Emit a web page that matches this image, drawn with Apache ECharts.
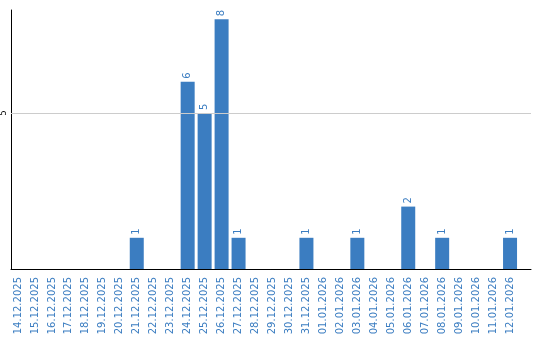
<!DOCTYPE html>
<html>
<head>
<meta charset="utf-8">
<script src="https://cdn.jsdelivr.net/npm/echarts@6/dist/echarts.min.js"></script>
<style>html,body{margin:0;padding:0;background:#fff}#c{width:540px;height:340px}</style>
</head>
<body>
<div id="c"></div>
<script>
var categories = ["14.12.2025","15.12.2025","16.12.2025","17.12.2025","18.12.2025","19.12.2025","20.12.2025","21.12.2025","22.12.2025","23.12.2025","24.12.2025","25.12.2025","26.12.2025","27.12.2025","28.12.2025","29.12.2025","30.12.2025","31.12.2025","01.01.2026","02.01.2026","03.01.2026","04.01.2026","05.01.2026","06.01.2026","07.01.2026","08.01.2026","09.01.2026","10.01.2026","11.01.2026","12.01.2026"];
var values = [0,0,0,0,0,0,0,1,0,0,6,5,8,1,0,0,0,1,0,0,1,0,0,2,0,1,0,0,0,1];
var yTicks = [5];
var gridLineValue = 5;

var blue = '#3b7dc1';
var idx = categories.map(function(_, i){ return i; });
var chart = echarts.init(document.getElementById('c'), null, {renderer: 'canvas'});
chart.setOption({
  animation: false,
  textStyle: {fontFamily: 'DejaVu Sans'},
  grid: {left: 10, right: 9, top: 10, bottom: 71},
  xAxis: {
    type: 'value',
    min: -7/17,
    max: 514/17,
    axisLine: {show: true, onZero: false, lineStyle: {color: '#000', width: 1}},
    axisTick: {show: false},
    splitLine: {show: false},
    axisLabel: {
      customValues: idx,
      rotate: 90,
      margin: 8,
      color: blue,
      fontSize: 10,
      fontFamily: 'DejaVu Sans',
      formatter: function(v){ return categories[Math.round(v)] || ''; }
    }
  },
  yAxis: {
    type: 'value',
    min: 0,
    max: 8.3,
    axisLine: {show: true, onZero: false, lineStyle: {color: '#000', width: 1}},
    axisTick: {show: false},
    splitLine: {show: false},
    axisLabel: {
      customValues: yTicks,
      rotate: 90,
      margin: 3,
      color: '#000',
      fontSize: 8,
      fontFamily: 'DejaVu Sans'
    }
  },
  series: [{
    type: 'bar',
    barWidth: 14,
    data: values.map(function(v, i){ return [i, v]; }),
    itemStyle: {color: blue},
    label: {
      show: true,
      position: 'top',
      rotate: 90,
      align: 'left',
      verticalAlign: 'middle',
      distance: 3,
      color: blue,
      fontSize: 10,
      fontFamily: 'DejaVu Sans',
      formatter: function(p){ return p.value[1] ? String(p.value[1]) : ''; }
    },
    markLine: {
      silent: true,
      symbol: ['none','none'],
      label: {show: false},
      lineStyle: {color: '#cccccc', width: 1, type: 'solid'},
      data: [{yAxis: gridLineValue}]
    },
    z: 3
  }]
});
</script>
</body>
</html>
